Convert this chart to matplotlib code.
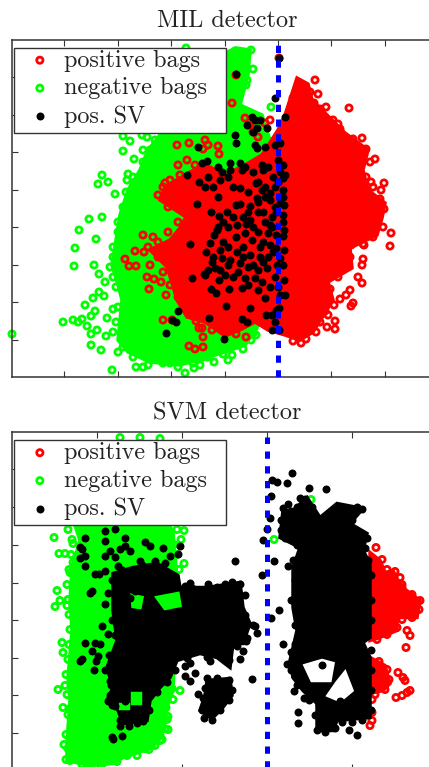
import matplotlib
matplotlib.use('Agg')
import matplotlib.pyplot as plt
from matplotlib.patches import Rectangle
import numpy as np

plt.rcParams['font.family'] = ['cmr10', 'DejaVu Sans']
plt.rcParams['axes.formatter.use_mathtext'] = True

labels = ['positive bags', 'negative bags', 'pos. SV']

# MIL detector, dense parts of the clouds (outlines)
mil_neg_core = [(-42,329),(-28,327),(-30,302),(-38,272),(-16,262),(-8,237),(-8,77),(-22,47),(-33,32),(-53,25),
    (-73,19),(-98,12),(-128,15),(-150,25),(-160,37),(-158,57),(-156,77),(-160,92),(-166,112),(-162,137),(-158,162),
    (-150,187),(-138,207),(-130,227),(-118,242),(-88,247),(-78,277),(-68,317)]
mil_pos_core = [(19,299),(30,293),(34,277),(47,264),(67,244),(90,227),(85,207),(90,187),(107,174),(104,159),(99,142),
    (72,129),(74,109),(50,95),(55,77),(45,61),(35,45),(22,37),(7,42),(-10,47),(-23,55),(-38,47),(-53,41),(-73,55),
    (-91,60),(-101,77),(-106,94),(-111,110),(-128,127),(-108,137),(-98,149),(-92,160),(-118,177),(-113,190),(-88,205),
    (-73,212),(-53,202),(-33,212),(-16,222),(0,247),(7,262)]

mil_neg = [(-92,329),(-43,326),(-27,327),(-25,308),(-31,297),(-32,292),(-43,292),(-40,282),(-46,282),(-7,270),
    (-155,241),(-148,236),(-136,242),(-131,240),(-123,237),(-155,226),(-144,218),(-135,227),(-128,227),(-176,202),
    (-170,195),(-180,193),(-150,203),(-163,183),(-151,197),(-145,194),(-141,192),(-132,200),(-128,212),(-121,217),
    (-130,187),(-189,158),(-176,160),(-199,147),(-182,138),(-203,129),(-204,111),(-184,112),(-179,103),(-173,95),
    (-179,85),(-185,79),(-174,81),(-193,72),(-183,66),(-165,68),(-187,61),(-171,59),(-215,55),(-205,57),(-200,55),
    (-196,58),(-191,51),(-187,43),(-181,47),(-172,41),(-187,32),(-177,27),(-266,43),(-166,7),(-142,10),(-135,10),
    (-93,4),(-84,9),(-64,15),(-50,17),(-46,22),(-41,32),(-25,44),(-27,37),(-37,34),(-53,32),(-75,20),(-78,12),
    (-108,14),(-160,25),
    (-165,120),(-168,110),(-165,100),(-162,90),(-165,130),(-160,145),(-160,155),(-155,170),(-152,185),(-145,200),
    (-135,215),(-160,70),(-162,55),(-165,45),(-155,30),(-145,20),(-130,12),(-115,14),(-100,10),(-85,14),(-70,20),
    (-55,23),(-35,28),(-22,42),(-12,55),(-10,70),(-5,85)]
mil_pos = [(1,319),(-42,302),(-46,274),(37,297),(15,279),(32,285),(36,274),(71,269),(48,270),(60,253),(45,254),(51,254),
    (84,239),(97,218),(106,194),(103,187),(93,195),(66,222),(73,219),(-101,232),(-89,234),(-60,231),(-59,223),(-8,257),
    (-13,254),(-33,259),(113,144),(112,131),(73,132),(86,132),(85,118),(84,112),(80,100),(84,94),(72,87),(68,82),(62,78),
    (75,74),(73,71),(47,66),(57,56),(49,50),(57,48),(23,34),(-135,142),(-125,140),(-153,118),(-149,111),(-142,111),
    (-143,126),(-134,125),(-128,112),(-131,100),(-124,98),(-117,95),(-129,88),(-112,82),(-97,79),(-115,57),(-106,57),
    (-82,56),(-79,49),(-89,31),(-83,28),(-75,40),(-75,30),(-32,40),(-42,43),(-66,47),(-76,49),(-113,194),(-108,197),
    (-100,212),(-91,217),(-83,212),(-78,202),(-98,202),(-103,187),(-88,187),(-68,207),(-58,187),(-40,197),(-28,205),
    (-73,237),(-70,232),(-75,228),(-28,252),(-25,245),(-20,240),
    (25,290),(40,283),(42,268),(55,257),(62,248),(75,238),(88,228),(92,215),(88,200),(95,190),(102,178),(106,168),
    (105,150),(95,140),(85,133),(72,120),(70,112),(60,100),(52,88),(56,72),(50,62),(42,55),(38,45),(28,38),(15,36),
    (-100,80),(-108,92),(-115,105),(-120,120),(-130,130),(-120,135),(-110,145),(-100,155),(-110,170),(-120,182),(-115,190)]
mil_sv = [(1,319),(-42,303),(-3,279),(7,260),(-26,260),(-31,252),(-23,257),(-18,257),(-11,249),(-25,245),(-21,249),
    (-43,242),(-42,234),(-23,232),(-13,230),(-21,229),(-3,232),(2,234),(-80,230),(-71,216),(-76,214),(-91,202),(-48,214),
    (-33,210),(-38,214),(-16,212),(0,217),(5,212),(2,205),(5,199),(0,195),(7,202),(-15,207),(-10,210),(-22,194),(-16,187),
    (-36,207),(-48,207),(-56,205),(-50,200),(-58,197),(-38,189),(-13,190),(-8,184),(-60,180),(-73,190),(-79,195),(-81,173),
    (-67,165),(-59,161),(-51,165),(-42,172),(-38,173),(-28,171),(-21,179),(-13,180),(-8,177),(2,174),(-2,165),(-8,152),
    (-13,155),(-10,144),(-2,142),(5,141),(-41,152),(-32,153),(-28,157),(-42,140),(-33,144),(-26,137),(-15,135),(-8,132),
    (-2,129),(6,127),(2,119),(5,112),(-88,133),(-68,134),(-64,142),(-61,147),(-66,115),(-58,127),(-56,119),(-48,117),
    (-41,125),(-38,114),(-50,112),(-58,107),(-63,109),(-73,102),(-70,107),(-28,122),(-20,107),(-11,109),(-1,112),(-86,99),
    (-74,103),(-59,97),(-53,102),(-33,99),(-30,92),(-49,88),(-36,89),(-23,99),(-20,87),(-16,95),(-67,88),(-62,84),(-13,79),
    (-2,67),(2,82),(-28,69),(-52,71),(-31,55),(1,69),(-6,62),(-12,62),(-36,58),(-100,66),(-106,57),(-102,55),(-69,59),
    (-6,47),(1,47),(-112,44),(-54,38),(-3,55),(7,82),(6,97),(5,187),(5,180),(6,172),(5,162),(5,155),(6,147),(-3,190),
    (-5,200),(-3,170),(-6,160),(-6,150),
    (-60,150),(-55,155),(-50,150),(-45,160),(-35,160),(-30,165),(-20,165),(-15,165),(-25,150),(-20,145),(-18,130),(-35,130),
    (-50,130),(-55,135),(-72,125),(-65,120),(-25,112),(-30,110),(-35,120),(-45,100),(-40,105),(-18,120),(-15,115),(-10,120),
    (-5,125),(-3,100),(0,90),(-8,90),(-20,175),(-30,185),(-20,195),(-25,205),(-45,190),(-65,190),(-60,210),(-70,200)]

# SVM detector
svm_neg_core = [(-192,244),(-97,244),(-94,236),(-91,202),(-89,169),(-92,129),(-94,79),(-100,62),(-104,39),(-114,22),
    (-144,12),(-154,6),(-177,4),(-200,9),(-200,22),(-199,42),(-197,69),(-199,92),(-195,139),(-197,169),(-195,202),(-187,229)]
# green showing through the black mass
svm_neg_patches = [[(-135,174),(-125,172),(-127,162),(-134,163)], [(-110,172),(-89,176),(-87,164),(-102,161)],
    [(-135,77),(-127,77),(-127,67),(-135,67)], [(-147,66),(-139,66),(-139,62),(-147,62)]]
svm_pos_core_a = [(103,217),(113,209),(118,197),(126,199),(133,184),(153,169),(150,152),(130,152),(130,139),(110,131),(103,129)]
svm_pos_core_b = [(103,112),(118,104),(123,86),(116,79),(103,76)]
svm_sv_core_a = [(-154,196),(-134,202),(-110,206),(-89,194),(-87,182),(-60,182),(-27,187),(-24,162),(-17,146),(-24,126),
    (-34,126),(-37,102),(-50,112),(-67,116),(-90,109),(-97,92),(-107,82),(-117,69),(-120,49),(-144,46),(-150,62),(-160,69),
    (-154,82),(-160,102),(-150,129),(-154,159)]
svm_sv_core_b = [(-60,89),(-37,91),(-35,74),(-45,61),(-55,51),(-67,59),(-62,74)]
svm_sv_core_c = [(26,259),(40,272),(53,252),(70,266),(96,261),(83,246),(100,236),(96,219),(103,206),(103,179),(103,132),
    (96,127),(103,112),(103,52),(70,49),(66,39),(50,39),(50,66),(36,79),(26,92),(23,109),(30,139),(26,162),(26,202),
    (33,222),(13,232),(16,259)]
svm_gap_a = [(38,104),(55,109),(66,106),(63,89),(45,89)]
svm_gap_b = [(78,97),(85,79),(73,69),(61,74),(70,87)]

svm_neg = [(44,270),(7,230),(-213,232),(-194,226),(-208,216),(-202,216),(-194,207),(-83,239),(-86,230),(-83,206),(-197,197),
    (-190,199),(-210,179),(-212,163),(-207,169),(-200,164),(-205,127),(-204,117),(-209,80),(-202,84),(-204,62),(-197,61),
    (-87,79),(-95,81),(-101,62),(-99,53),(-203,25),(-199,21),(-201,10),(-197,9),(-112,39),(-107,34),(-102,41),(-99,40),
    (-107,29),(-117,24),(-122,21),(-112,24),(-140,14),(-177,5),(-93,186),(-147,332),(-127,332),(-107,331),
    (-199,240),(-195,230),(-196,215),(-198,200),(-200,185),(-199,170),(-198,155),(-197,140),(-198,125),(-199,110),(-201,95),
    (-200,75),(-199,55),(-201,35),(-196,12),(-185,5),(-165,5),(-150,8),(-130,14),(-118,20),(-105,30),(-100,50),(-94,70),
    (-90,215),(-88,200),(-87,180),(-88,160),(-90,240),(-93,225)]
svm_pos = [(109,222),(133,192),(135,185),(131,177),(135,172),(153,169),(140,139),(143,134),(139,122),(131,97),(136,92),
    (138,89),(129,72),(135,74),(143,79),(140,77),(105,70),(105,57),(105,49),(103,44),
    (115,210),(120,200),(128,198),(135,182),(145,175),(152,160),(145,152),(135,150),(130,142),(120,135),(110,130),(112,108),
    (120,100),(122,90),(118,80),(108,75)]
svm_sv = [(25,296),(20,286),(5,289),(10,287),(42,281),(59,280),(4,273),(21,265),(16,261),(33,271),(3,252),(0,241),(-4,230),
    (7,209),(-32,209),(21,204),(-5,195),(-152,241),(-162,239),(-182,232),(-162,229),(-142,232),(-142,224),(-122,228),
    (-117,224),(-104,222),(-89,216),(-87,224),(-97,214),(-112,209),(-102,207),(-127,209),(-137,219),(-147,221),(-157,219),
    (-152,213),(-149,204),(-162,214),(-162,199),(-185,221),(-187,212),(-182,204),(-172,196),(-168,196),(-182,214),(-187,223),
    (-82,184),(-77,187),(-59,186),(-42,186),(-32,184),(-27,186),(-67,179),(-177,177),(-175,179),(-159,177),(-147,174),
    (-137,172),(-132,179),(-162,166),(-147,164),(-142,159),(-149,149),(-165,144),(-159,136),(-182,127),(-172,127),(-167,126),
    (-175,119),(-169,114),(-185,111),(-187,109),(-171,109),(-173,100),(-157,89),(-159,69),(-142,69),(-152,64),(-155,33),
    (-154,31),(-145,34),(-138,44),(-124,49),(-132,59),(-142,54),(-147,44),(-82,104),(-77,107),(-72,97),(-82,94),(-77,89),
    (-57,109),(-27,111),(-24,119),(-15,91),(-69,76),(-63,64),(-63,52),(-12,144),(-10,137),(-21,129),(4,152),(12,160),(16,126),
    (28,126),(20,106),(28,94),(27,79),(37,72),(48,72),(31,58),(31,47),(53,46),(63,46),(82,40),(90,35),(76,57),(52,65),(73,69),
    (55,105),
    (24,258),(30,262),(38,270),(45,262),(52,250),(60,245),(65,258),(72,262),(80,261),(90,262),(95,260),(85,250),(80,245),
    (92,238),(100,232),(98,222),(101,210),(104,195),(104,170),(104,150),(104,120),(104,100),(104,80),(104,60),(95,50),(85,48),
    (75,48),(68,42),(58,38),(50,40),(48,55),(42,70),(30,85),(24,100),(24,118),(28,145),(24,170),(28,190),(26,210),(30,225),
    (18,232),(14,240),(14,250),(20,255),
    (-155,190),(-145,200),(-125,205),(-105,203),(-92,192),(-75,182),(-50,183),(-35,188),(-22,175),(-22,155),(-14,145),(-20,132),
    (-30,124),(-38,110),(-45,113),(-60,113),(-80,112),(-92,100),(-100,88),(-110,78),(-118,60),(-130,47),(-147,50),(-155,65),
    (-157,75),(-156,85),(-162,100),(-158,115),(-152,135),(-155,150),
    (-60,92),(-50,92),(-38,90),(-35,80),(-38,70),(-47,60),(-55,50),(-65,60),(-64,72),(-62,82)]

mil_ticks_x = [-214, -160, -107, -53, 0, 53, 107, 160]
svm_ticks_x = [-170, -85, 0, 85, 170]
ticks_y = [37, 75, 112, 150, 187, 225, 262, 300]

W, H = 429.0, 767.0
RED, GREEN = '#ff0000', '#00ff00'


def rings(ax, pts, color, z=2):
    pts = np.array(pts)
    return ax.scatter(pts[:, 0], pts[:, 1], s=20, facecolors='none', edgecolors=color,
                      linewidths=2.0, zorder=z, clip_on=False)


def core(ax, pts, color, z):
    pts = np.array(pts)
    ax.fill(pts[:, 0], pts[:, 1], color=color, lw=2.5, zorder=z)


def style(ax, xt, thr_top):
    ax.set_xticks(xt)
    ax.set_yticks(ticks_y)
    ax.set_xticklabels([])
    ax.set_yticklabels([])
    ax.tick_params(direction='in', length=4, width=0.8, color='#333333', top=True, right=True)
    for s in ax.spines.values():
        s.set_linewidth(1.1)
        s.set_color('#333333')
    ax.plot([0, 0], [0, thr_top], color='#0000ff', lw=3.6, ls=(0, (1.45, 1.5)), dash_capstyle='butt', zorder=5)


def add_legend(ax, h):
    # box drawn apart, the legend frame cannot have different side and top padding
    ax.add_patch(Rectangle((2.5 / 428.5, 1 - 92.5 / 337), 212 / 428.5, 85 / 337, transform=ax.transAxes,
                           facecolor='w', edgecolor='#333333', lw=1.0, zorder=9, clip_on=False))
    leg = ax.legend(h, labels, loc='upper left', bbox_to_anchor=(2.5 / 428.5, 1 - 7 / 337), fontsize=17.4,
                    frameon=False, borderaxespad=0, borderpad=0.1, labelspacing=0.24,
                    handletextpad=0.03, handlelength=1.94, scatterpoints=1)
    for t in leg.get_texts():
        t.set_color('#222222')
    leg.set_zorder(10)


fig = plt.figure(figsize=(W / 100, H / 100), dpi=100)

# upper panel
ax1 = fig.add_axes([11.5 / W, (H - 377) / H, 428.5 / W, 337 / H])
ax1.set_xlim(-266.5, 162)
ax1.set_ylim(0, 337)
core(ax1, mil_neg_core, GREEN, 2)
core(ax1, mil_pos_core, RED, 3)
h_neg = rings(ax1, mil_neg, GREEN, z=2)
h_pos = rings(ax1, mil_pos, RED, z=3)
sv = np.array(mil_sv)
h_sv = ax1.scatter(sv[:, 0], sv[:, 1], s=33, color='k', linewidths=0, zorder=4)
style(ax1, mil_ticks_x, 332)
add_legend(ax1, [h_pos, h_neg, h_sv])
fig.text(227 / W, 1 - 27 / H, 'MIL detector', ha='center', va='baseline', fontsize=17.5, color='#222222')

# lower panel, runs a little past the bottom of the image
ax2 = fig.add_axes([11.5 / W, (H - 769.5) / H, 428.5 / W, 337 / H])
ax2.set_xlim(-255.5, 173)
ax2.set_ylim(0, 337)
core(ax2, svm_neg_core, GREEN, 2)
core(ax2, svm_pos_core_a, RED, 3)
core(ax2, svm_pos_core_b, RED, 3)
h_neg = rings(ax2, svm_neg, GREEN, z=2)
h_pos = rings(ax2, svm_pos, RED, z=3)
core(ax2, svm_sv_core_a, 'k', 4)
core(ax2, svm_sv_core_b, 'k', 4)
core(ax2, svm_sv_core_c, 'k', 4)
core(ax2, svm_gap_a, 'w', 4)
core(ax2, svm_gap_b, 'w', 4)
for patch in svm_neg_patches:
    core(ax2, patch, GREEN, 4.2)
sv = np.array(svm_sv)
h_sv = ax2.scatter(sv[:, 0], sv[:, 1], s=33, color='k', linewidths=0, zorder=4.5)
style(ax2, svm_ticks_x, 332)
add_legend(ax2, [h_pos, h_neg, h_sv])
fig.text(227 / W, 1 - 420 / H, 'SVM detector', ha='center', va='baseline', fontsize=17.5, color='#222222')

fig.savefig('out.png', dpi=100)
